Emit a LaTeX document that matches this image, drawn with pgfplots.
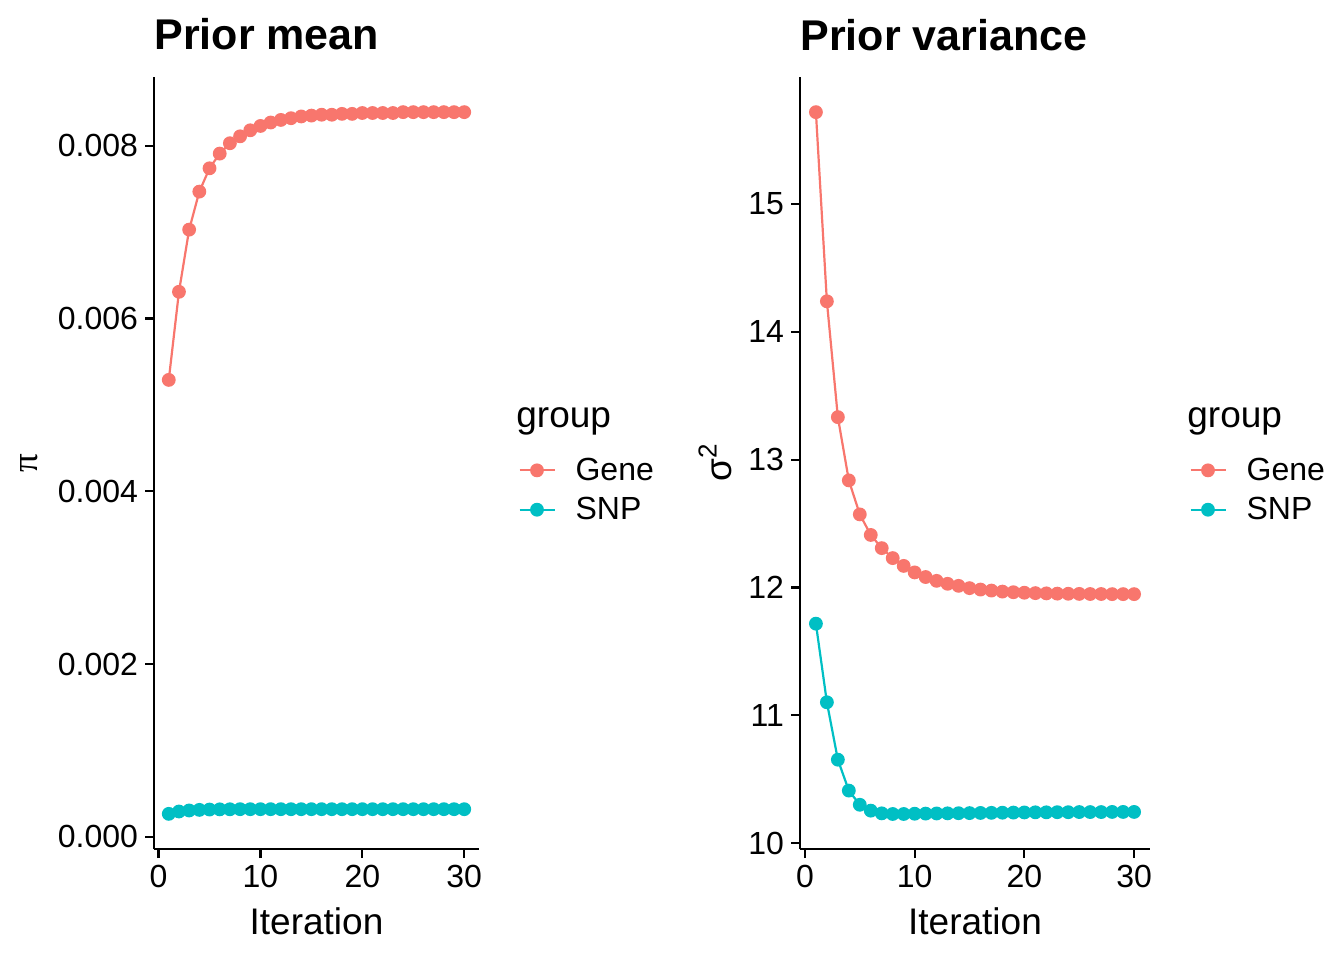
\documentclass[border=0pt]{standalone}
\usepackage{fontspec}
\setmainfont{Liberation Sans}
\newfontfamily\serifgreek{Liberation Serif}
\usepackage{pgfplots}
\pgfplotsset{compat=1.18}

\definecolor{gene}{HTML}{F8766D}
\definecolor{snp}{HTML}{00BFC4}

\pgfplotsset{
  gg/.style={
    scale only axis,
    height=386pt,
    clip mode=individual,
    axis x line*=bottom, axis y line*=left,
    axis line style={line width=1.1pt, black},
    tick align=outside, major tick length=4.5pt,
    every tick/.style={black, line width=1.1pt},
    xmin=-0.45, xmax=31.45, xtick={0,10,20,30},
    tick label style={font=\fontsize{16}{19}\selectfont},
    /pgf/number format/assume math mode=true,
    label style={font=\fontsize{18.5}{22}\selectfont},
    title style={font=\bfseries\fontsize{21.5}{26}\selectfont, at={(axis description cs:0,1)}, anchor=base west, yshift=7.5pt, inner sep=0pt},
    xlabel style={at={(axis description cs:0.5,0)}, anchor=base, yshift=-42.5pt, inner sep=0pt},
    xlabel={Iteration},
    legend style={at={(axis description cs:1,0.465)}, anchor=west, xshift=19.5pt,
      draw=none, fill=none, inner sep=0pt, row sep=3pt,
      font=\fontsize{16}{19}\selectfont, cells={anchor=west},
      /tikz/every odd column/.style={column sep=8pt}},
    legend image code/.code={\draw[mark repeat=2, mark phase=2, #1] plot coordinates {(0pt,0pt) (8.75pt,0pt) (17.5pt,0pt)};},
    every axis plot/.append style={line width=1.1pt, mark=*, mark size=2.9pt},
  },
  gene/.style={color=gene, mark options={fill=gene, draw=none}},
  snp/.style={color=snp, mark options={fill=snp, draw=none}},
}

\begin{document}
\begin{tikzpicture}
\path[use as bounding box] (0,0) rectangle (672pt,480pt);

\begin{axis}[gg,
  at={(77pt,55.5pt)}, anchor=south west,
  width=162.5pt,
  title={Prior mean},
  ylabel={\serifgreek π},
  ylabel style={at={(axis description cs:-0.385,0.5)}, anchor=center},
  ymin=-0.000141, ymax=0.008797,
  ytick={0,0.002,0.004,0.006,0.008},
  scaled y ticks=false,
  yticklabel style={/pgf/number format/fixed, /pgf/number format/fixed zerofill, /pgf/number format/precision=3},
]
\addplot[gene] coordinates {
(1,0.00529)(2,0.00631)(3,0.00703)(4,0.00747)(5,0.00774)(6,0.00791)(7,0.00803)(8,0.00811)(9,0.00818)(10,0.00823)
(11,0.00827)(12,0.00830)(13,0.00832)(14,0.00834)(15,0.00835)(16,0.00836)(17,0.00836)(18,0.00837)(19,0.00837)(20,0.00838)
(21,0.00838)(22,0.00838)(23,0.00838)(24,0.00839)(25,0.00839)(26,0.00839)(27,0.00839)(28,0.00839)(29,0.00839)(30,0.00839)
};
\addlegendentry{Gene}
\addplot[snp] coordinates {
(1,0.000266)(2,0.000293)(3,0.000305)(4,0.000312)(5,0.000316)(6,0.000318)(7,0.000319)(8,0.00032)(9,0.00032)(10,0.00032)
(11,0.00032)(12,0.00032)(13,0.00032)(14,0.00032)(15,0.00032)(16,0.00032)(17,0.00032)(18,0.00032)(19,0.00032)(20,0.00032)
(21,0.00032)(22,0.00032)(23,0.00032)(24,0.00032)(25,0.00032)(26,0.00032)(27,0.00032)(28,0.00032)(29,0.00032)(30,0.00032)
};
\addlegendentry{SNP}
\node[anchor=base west, inner sep=0pt, font=\fontsize{18.5}{22}\selectfont, xshift=18.5pt] at (axis description cs:1,0.5466) {group};
\end{axis}

\begin{axis}[gg,
  at={(400pt,55.5pt)}, anchor=south west,
  width=175pt,
  title={Prior variance},
  ylabel={σ\raisebox{0.75ex}{\fontsize{13}{13}\selectfont 2}},
  ylabel style={at={(axis description cs:-0.243,0.5)}, anchor=center},
  ymin=9.954, ymax=15.994,
  ytick={10,11,12,13,14,15},
]
\addplot[gene] coordinates {
(1,15.719)(2,14.239)(3,13.333)(4,12.838)(5,12.572)(6,12.411)(7,12.308)(8,12.230)(9,12.169)(10,12.118)
(11,12.082)(12,12.052)(13,12.029)(14,12.013)(15,11.995)(16,11.984)(17,11.976)(18,11.968)(19,11.963)(20,11.959)
(21,11.956)(22,11.954)(23,11.952)(24,11.951)(25,11.950)(26,11.949)(27,11.949)(28,11.948)(29,11.948)(30,11.948)
};
\addlegendentry{Gene}
\addplot[snp] coordinates {
(1,11.717)(2,11.102)(3,10.653)(4,10.411)(5,10.300)(6,10.254)(7,10.233)(8,10.228)(9,10.228)(10,10.230)
(11,10.231)(12,10.232)(13,10.233)(14,10.234)(15,10.235)(16,10.236)(17,10.237)(18,10.238)(19,10.239)(20,10.240)
(21,10.241)(22,10.241)(23,10.242)(24,10.242)(25,10.243)(26,10.243)(27,10.243)(28,10.244)(29,10.244)(30,10.244)
};
\addlegendentry{SNP}
\node[anchor=base west, inner sep=0pt, font=\fontsize{18.5}{22}\selectfont, xshift=18.5pt] at (axis description cs:1,0.5466) {group};
\end{axis}
\end{tikzpicture}
\end{document}
